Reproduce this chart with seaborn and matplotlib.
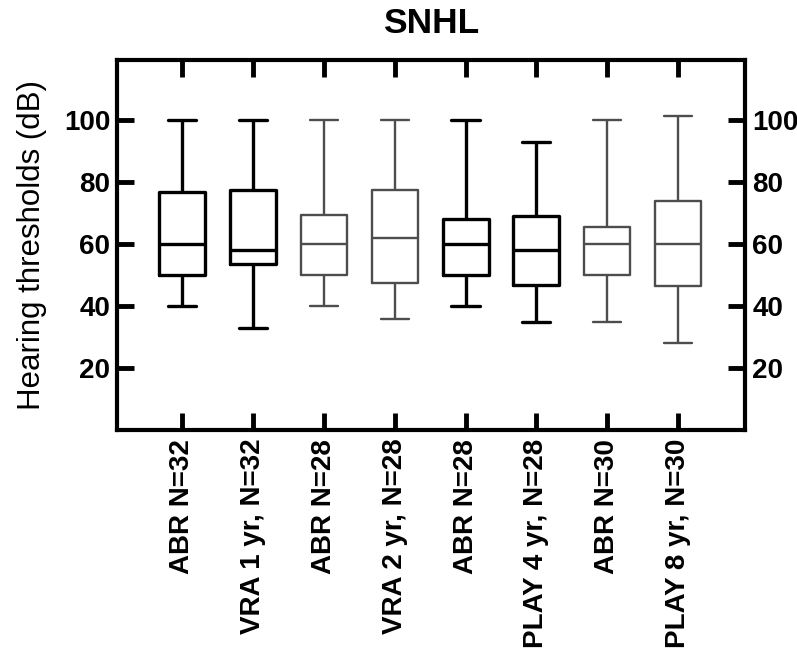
import numpy as np
import pandas as pd
import matplotlib
matplotlib.use("Agg")
import matplotlib.pyplot as plt
import seaborn as sns

# groups along the x axis
groups = ["ABR N=32", "VRA 1 yr, N=32", "ABR N=28", "VRA 2 yr, N=28",
          "ABR N=28 ", "PLAY 4 yr, N=28", "ABR N=30", "PLAY 8 yr, N=30"]
# five-number summaries (dB)
whisker_low = [40, 33, 40, 36, 40, 35, 35, 28]
q1 = [50, 53.5, 50, 47.5, 50, 47, 50, 46.5]
median = [60, 58, 60, 62, 60, 58, 60, 60]
q3 = [77, 77.5, 69.5, 77.5, 68, 69, 65.5, 74]
whisker_high = [100, 100, 100, 100, 100, 93, 100, 101.5]
dark = [True, True, False, False, True, True, False, False]

rows = []
for i, g in enumerate(groups):
    for v in (whisker_low[i], q1[i], median[i], q3[i], whisker_high[i]):
        rows.append({"group": g, "dB": v, "dark": dark[i]})
df = pd.DataFrame(rows)

sns.set_style("white")
plt.rcParams["font.family"] = ["Liberation Sans", "DejaVu Sans"]
for k in ["text.color", "axes.labelcolor", "xtick.color", "ytick.color"]:
    plt.rcParams[k] = "black"

fig = plt.figure(figsize=(7.97, 6.5), dpi=100)
ax = fig.add_axes([0.147, 0.338, 0.788, 0.570])

box_w = 0.65
for is_dark, col, lw in [(True, "black", 2.4), (False, "#4d4d4d", 1.7)]:
    sub = df[df["dark"] == is_dark]
    sns.boxplot(data=sub, x="group", y="dB", order=groups, whis=(0, 100),
                fill=False, color=col, linecolor=col, linewidth=lw,
                width=box_w, showfliers=False, ax=ax)

# widen whisker caps a bit
for ln in ax.lines:
    x, y = ln.get_xdata(), ln.get_ydata()
    if len(x) == 2 and y[0] == y[1]:
        w = abs(x[1] - x[0])
        if w < box_w * 0.8:
            c = (x[0] + x[1]) / 2
            ln.set_xdata([c - 0.2, c + 0.2])

ax.set_xlim(-0.92, 7.95)
ax.set_ylim(0, 119.5)
ax.set_yticks([20, 40, 60, 80, 100])
ax.set_xticks(range(len(groups)))
ax.set_xticklabels([g.strip() for g in groups], rotation=90,
                   fontsize=20, fontweight="bold")
ax.tick_params(axis="y", which="both", direction="in", length=12, width=3.5,
               left=True, right=True, labelleft=True, labelright=True,
               labelsize=20, pad=5)
ax.tick_params(axis="x", direction="in", length=12, width=3.5,
               bottom=True, top=True, pad=6)
for lab in ax.get_yticklabels():
    lab.set_fontweight("bold")
for sp in ax.spines.values():
    sp.set_visible(True)
    sp.set_linewidth(3)
    sp.set_color("black")

ax.set_xlabel("")
ax.set_ylabel("Hearing thresholds (dB)", fontsize=22.5, labelpad=12)
ax.set_title("SNHL", fontsize=25.5, fontweight="bold", pad=19)

fig.savefig("out.png", dpi=100)
